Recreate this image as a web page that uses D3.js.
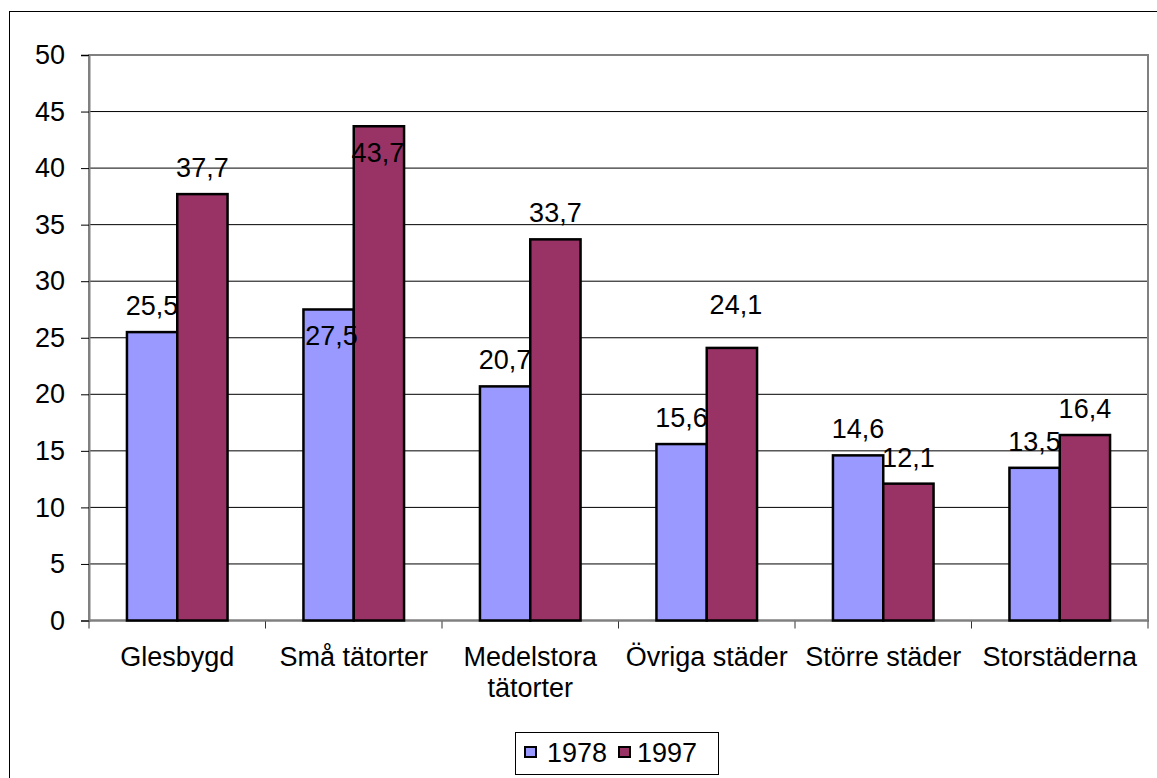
<!DOCTYPE html>
<html>
<head>
<meta charset="utf-8">
<script src="https://cdn.jsdelivr.net/npm/d3@7"></script>
<style>
  html, body { margin: 0; padding: 0; background: #fff; }
  svg { display: block; font-family: Arial, "Liberation Sans", sans-serif; }
</style>
</head>
<body>
<svg id="chart" width="1157" height="778"></svg>
<script>
// Share (%) by type of area, 1978 and 1997
const categories = ["Glesbygd", "Små tätorter", "Medelstora tätorter", "Övriga städer", "Större städer", "Storstäderna"];
const seriesNames = ["1978", "1997"];
const values1978 = [25.5, 27.5, 20.7, 15.6, 14.6, 13.5];
const values1997 = [37.7, 43.7, 33.7, 24.1, 12.1, 16.4];
const yTicks = [0, 5, 10, 15, 20, 25, 30, 35, 40, 45, 50];

// Hand-placed label nudges [dx, dy] per series and category
const labelNudge1978 = [[0, 0], [3, 53], [0, 0], [0, 0], [0, 0], [0, 0]];
const labelNudge1997 = [[0, 0], [-1, 53], [0, 0], [4, -17], [0, 0], [0, 0]];

const colors = ["#9999FF", "#993366"];
const fontSize = 27;

const svg = d3.select("#chart");
const plot = { left: 89, right: 1148, top: 55, bottom: 620.5 };

// outer chart border
svg.append("rect")
  .attr("x", 9.5).attr("y", 11.5)
  .attr("width", 1300).attr("height", 900)
  .attr("fill", "#fff").attr("stroke", "#000").attr("stroke-width", 1);

const y = d3.scaleLinear().domain([0, 50]).range([plot.bottom, plot.top]);
const x0 = d3.scaleBand().domain(categories)
  .range([plot.left, plot.right]).paddingInner(0.43).paddingOuter(0.215);
const x1 = d3.scaleBand().domain(seriesNames).range([0, x0.bandwidth()]);

// gridlines
svg.append("g").selectAll("line")
  .data(yTicks.filter(t => t > 0 && t < 50))
  .join("line")
  .attr("x1", plot.left).attr("x2", plot.right)
  .attr("y1", d => y(d)).attr("y2", d => y(d))
  .attr("stroke", "#000").attr("stroke-width", 1);

// plot area frame
svg.append("rect")
  .attr("x", plot.left).attr("y", plot.top)
  .attr("width", plot.right - plot.left).attr("height", plot.bottom - plot.top)
  .attr("fill", "none").attr("stroke", "#808080").attr("stroke-width", 2);

// y axis
const yAxis = d3.axisLeft(y).tickValues(yTicks).tickSize(8).tickPadding(16);
const gy = svg.append("g").attr("transform", `translate(${plot.left},0)`).call(yAxis);
gy.select(".domain").attr("stroke", "#808080").attr("stroke-width", 2);
gy.selectAll(".tick line").attr("stroke", "#000");
gy.selectAll(".tick text")
  .attr("font-size", fontSize).attr("font-family", "Arial, 'Liberation Sans', sans-serif")
  .attr("fill", "#000").attr("dy", "0.32em");

// x axis with ticks on category boundaries
const boundaries = d3.range(categories.length + 1).map(i => plot.left + i * x0.step());
svg.append("g").selectAll("line")
  .data(boundaries)
  .join("line")
  .attr("x1", d => d).attr("x2", d => d)
  .attr("y1", plot.bottom).attr("y2", plot.bottom + 8)
  .attr("stroke", "#333").attr("stroke-width", 1);
svg.append("line")
  .attr("x1", plot.left).attr("x2", plot.right)
  .attr("y1", plot.bottom).attr("y2", plot.bottom)
  .attr("stroke", "#808080").attr("stroke-width", 2);

// category labels, wrapped when wider than a category slot
const catLabels = svg.append("g").selectAll("text")
  .data(categories)
  .join("text")
  .attr("x", d => x0(d) + x0.bandwidth() / 2)
  .attr("y", 666)
  .attr("text-anchor", "middle")
  .attr("font-size", fontSize)
  .attr("fill", "#000");
catLabels.each(function(d) {
  const t = d3.select(this);
  t.text(d);
  if (this.getComputedTextLength() > x0.step() - 4) {
    t.text(null);
    const words = d.split(" ");
    words.forEach((w, i) => {
      t.append("tspan")
        .attr("x", x0(d) + x0.bandwidth() / 2)
        .attr("dy", i === 0 ? 0 : 31)
        .text(w);
    });
  }
});

// bars
const seriesData = [values1978, values1997];
const nudges = [labelNudge1978, labelNudge1997];
const rows = categories.map((c, i) => seriesNames.map((s, k) => ({
  cat: c, series: s, k, value: seriesData[k][i], nudge: nudges[k][i]
})));

const groups = svg.append("g").selectAll("g")
  .data(rows)
  .join("g")
  .attr("transform", (d, i) => `translate(${x0(categories[i])},0)`);

groups.selectAll("rect")
  .data(d => d)
  .join("rect")
  .attr("x", d => x1(d.series))
  .attr("y", d => y(d.value))
  .attr("width", x1.bandwidth())
  .attr("height", d => y(0) - y(d.value))
  .attr("fill", d => colors[d.k])
  .attr("stroke", "#000").attr("stroke-width", 2.5);

// value labels (decimal comma)
groups.selectAll("text")
  .data(d => d)
  .join("text")
  .attr("x", d => x1(d.series) + x1.bandwidth() / 2 + d.nudge[0])
  .attr("y", d => y(d.value) - 17 + d.nudge[1])
  .attr("text-anchor", "middle")
  .attr("font-size", fontSize)
  .attr("fill", "#000")
  .text(d => d.value.toFixed(1).replace(".", ","));

// legend
const legend = svg.append("g");
legend.append("rect")
  .attr("x", 515.5).attr("y", 732.5).attr("width", 203).attr("height", 42)
  .attr("fill", "#fff").attr("stroke", "#000").attr("stroke-width", 1);
const legendItems = [
  { name: seriesNames[0], color: colors[0], sx: 525, tx: 547 },
  { name: seriesNames[1], color: colors[1], sx: 619, tx: 637 }
];
legend.selectAll("rect.sw")
  .data(legendItems)
  .join("rect")
  .attr("class", "sw")
  .attr("x", d => d.sx).attr("y", 747).attr("width", 11).attr("height", 10)
  .attr("fill", d => d.color).attr("stroke", "#000").attr("stroke-width", 2);
legend.selectAll("text")
  .data(legendItems)
  .join("text")
  .attr("x", d => d.tx).attr("y", 762)
  .attr("font-size", fontSize)
  .attr("fill", "#000")
  .text(d => d.name);
</script>
</body>
</html>
